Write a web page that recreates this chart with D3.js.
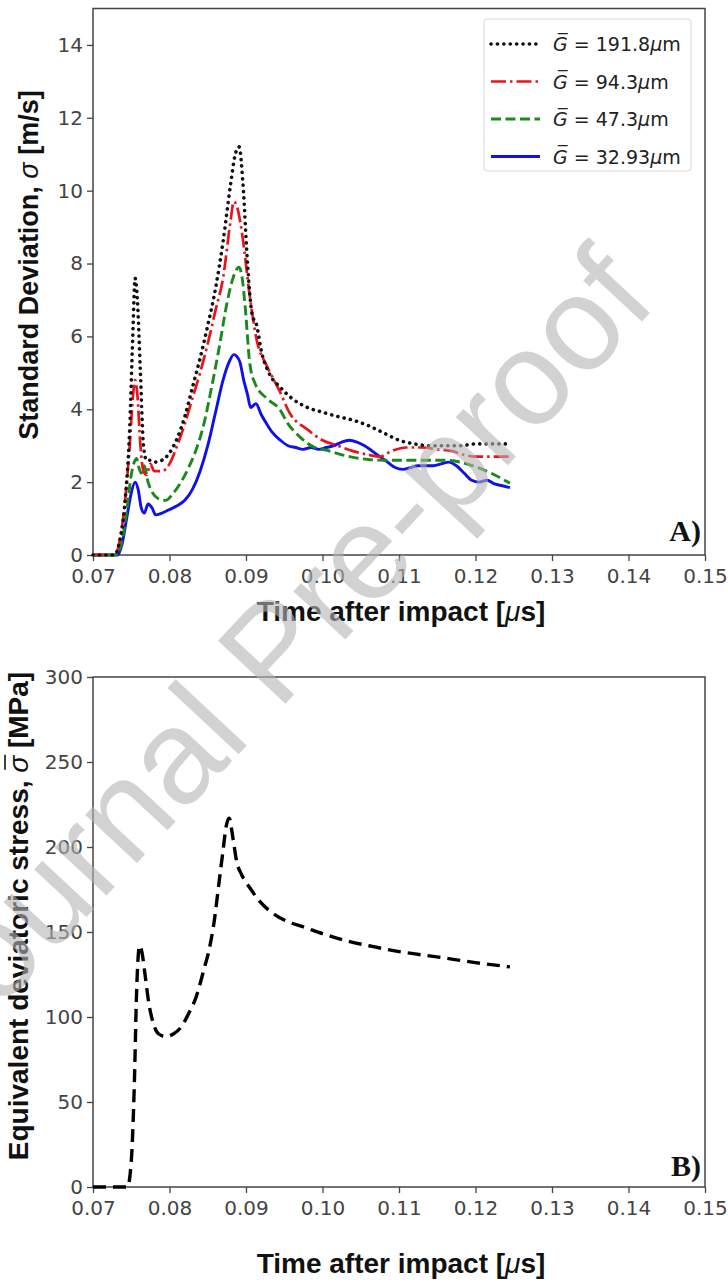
<!DOCTYPE html>
<html>
<head>
<meta charset="utf-8">
<script src="https://cdn.jsdelivr.net/npm/d3@7"></script>
<style>
  html, body { margin: 0; padding: 0; background: #fff; }
  svg { display: block; }
</style>
</head>
<body>
<svg id="chart" width="728" height="1285"></svg>
<script>
// ---- data ----
var xTicks = [0.07, 0.08, 0.09, 0.10, 0.11, 0.12, 0.13, 0.14, 0.15];
var sdTicks = [0, 2, 4, 6, 8, 10, 12, 14];
var stressTicks = [0, 50, 100, 150, 200, 250, 300];

var legendLabels = ['191.8', '94.3', '47.3', '32.93'];

// G = 191.8 um (black dotted)
var t1918 = [0.070, 0.0728, 0.0735, 0.0742, 0.0748, 0.0752, 0.0755, 0.0758, 0.0762, 0.0766, 0.0770, 0.0776, 0.0782, 0.0790, 0.0800, 0.0810, 0.0820, 0.0830, 0.0840, 0.0850, 0.0860, 0.0870, 0.0880, 0.0886, 0.0891, 0.0896, 0.0902, 0.0908, 0.0914, 0.0920, 0.0930, 0.0945, 0.0960, 0.0980, 0.1000, 0.1020, 0.1040, 0.1060, 0.1080, 0.1100, 0.1120, 0.1140, 0.1160, 0.1180, 0.1200, 0.1220, 0.1245];
var sd1918 = [0, 0, 0.4, 1.5, 3.5, 6.0, 7.6, 7.0, 5.0, 3.0, 2.6, 2.6, 2.55, 2.6, 2.8, 3.2, 3.8, 4.6, 5.4, 6.3, 7.3, 8.6, 10.2, 11.0, 11.2, 10.2, 8.0, 6.6, 6.3, 5.6, 5.0, 4.6, 4.3, 4.05, 3.92, 3.8, 3.7, 3.55, 3.35, 3.15, 3.05, 3.0, 3.0, 3.0, 3.05, 3.05, 3.05];

// G = 94.3 um (red dash-dot)
var t943 = [0.070, 0.0728, 0.0735, 0.0742, 0.0748, 0.0752, 0.0755, 0.0758, 0.0762, 0.0766, 0.0770, 0.0775, 0.0780, 0.0790, 0.0800, 0.0810, 0.0820, 0.0830, 0.0840, 0.0850, 0.0860, 0.0870, 0.0880, 0.0884, 0.0889, 0.0895, 0.0905, 0.0914, 0.0927, 0.0944, 0.0957, 0.0980, 0.1000, 0.1020, 0.1040, 0.1060, 0.1075, 0.1090, 0.1110, 0.1130, 0.1150, 0.1170, 0.1185, 0.1200, 0.1220, 0.1245];
var sd943 = [0, 0, 0.4, 1.5, 3.0, 4.3, 4.8, 4.4, 3.0, 2.3, 2.2, 2.5, 2.3, 2.3, 2.5, 3.0, 3.6, 4.3, 5.0, 5.8, 6.7, 7.6, 9.2, 9.7, 9.5, 8.8, 7.1, 5.9, 5.2, 4.5, 3.9, 3.45, 3.15, 3.0, 2.85, 2.75, 2.7, 2.85, 2.95, 2.95, 2.9, 2.85, 2.75, 2.7, 2.7, 2.7];

// G = 47.3 um (green dashed)
var t473 = [0.070, 0.0730, 0.0737, 0.0744, 0.0750, 0.0754, 0.0757, 0.0760, 0.0763, 0.0767, 0.0772, 0.0778, 0.0785, 0.0795, 0.0805, 0.0815, 0.0825, 0.0835, 0.0845, 0.0855, 0.0865, 0.0875, 0.0883, 0.0891, 0.0895, 0.0899, 0.0905, 0.0912, 0.0927, 0.0944, 0.0955, 0.0970, 0.0990, 0.1005, 0.1020, 0.1040, 0.1060, 0.1080, 0.1100, 0.1120, 0.1140, 0.1160, 0.1180, 0.1200, 0.1220, 0.1245];
var sd473 = [0, 0, 0.3, 1.2, 2.2, 2.55, 2.65, 2.4, 2.25, 2.45, 2.0, 1.7, 1.55, 1.5, 1.7, 2.0, 2.4, 2.9, 3.6, 4.6, 5.7, 6.9, 7.6, 7.9, 7.6, 6.8, 5.25, 4.7, 4.3, 4.0, 3.6, 3.25, 2.95, 2.88, 2.78, 2.68, 2.62, 2.6, 2.6, 2.6, 2.6, 2.6, 2.55, 2.42, 2.25, 1.97];

// G = 32.93 um (blue solid)
var t3293 = [0.070, 0.0732, 0.0738, 0.0744, 0.0750, 0.0755, 0.0759, 0.0763, 0.0767, 0.0772, 0.0777, 0.0782, 0.0790, 0.0800, 0.0810, 0.0820, 0.0830, 0.0840, 0.0850, 0.0860, 0.0870, 0.0878, 0.0884, 0.0888, 0.0892, 0.0897, 0.0902, 0.0906, 0.0913, 0.0920, 0.0927, 0.0935, 0.0945, 0.0955, 0.0965, 0.0975, 0.0985, 0.0995, 0.1005, 0.1015, 0.1025, 0.1035, 0.1045, 0.1055, 0.1065, 0.1075, 0.1085, 0.1095, 0.1105, 0.1115, 0.1125, 0.1135, 0.1145, 0.1155, 0.1165, 0.1175, 0.1185, 0.1195, 0.1205, 0.1215, 0.1225, 0.1235, 0.1245];
var sd3293 = [0, 0, 0.3, 1.0, 1.7, 2.0, 1.8, 1.3, 1.15, 1.4, 1.3, 1.1, 1.15, 1.25, 1.35, 1.5, 1.8, 2.3, 3.0, 3.9, 4.8, 5.3, 5.5, 5.45, 5.3, 4.8, 4.4, 4.05, 4.15, 3.85, 3.6, 3.35, 3.15, 3.0, 2.95, 2.9, 2.95, 2.9, 2.95, 3.0, 3.1, 3.15, 3.1, 3.0, 2.85, 2.7, 2.55, 2.4, 2.35, 2.4, 2.45, 2.45, 2.45, 2.5, 2.55, 2.45, 2.25, 2.05, 2.0, 2.05, 1.95, 1.9, 1.85];

// equivalent deviatoric stress (panel B)
var tStress = [0.070, 0.0745, 0.0750, 0.0754, 0.0757, 0.0761, 0.0764, 0.0768, 0.0773, 0.0779, 0.0786, 0.0795, 0.0805, 0.0815, 0.0825, 0.0835, 0.0845, 0.0852, 0.0858, 0.0865, 0.0870, 0.0874, 0.0878, 0.0883, 0.0888, 0.0894, 0.0905, 0.0918, 0.0935, 0.0955, 0.0975, 0.1000, 0.1030, 0.1065, 0.1100, 0.1155, 0.1200, 0.1245];
var stress = [0, 0, 15, 60, 115, 142, 138, 125, 108, 96, 90, 88.5, 90, 94, 102, 112, 128, 140, 155, 180, 198, 212, 217, 205, 191, 184, 176, 168, 161, 156, 153, 149, 145, 141.5, 138.5, 135, 132, 129.5];

// ---- drawing ----
var svg = d3.select('#chart');
svg.append('rect').attr('width', 728).attr('height', 1285).attr('fill', '#fff');

var tickFont = '"DejaVu Sans", sans-serif';
var titleFont = '"Liberation Sans", Arial, sans-serif';

var x = d3.scaleLinear().domain([0.07, 0.15]).range([93, 705]);
var yTop = d3.scaleLinear().domain([0, 15]).range([555, 8.5]);
var yBot = d3.scaleLinear().domain([0, 300]).range([1187, 677]);

function drawFrame(y, ticks, top, bottom) {
    var gx = svg.append('g')
        .attr('transform', 'translate(0,' + bottom + ')')
        .call(d3.axisBottom(x).tickValues(xTicks).tickFormat(d3.format('.2f')).tickSize(6).tickPadding(8));
    var gy = svg.append('g')
        .attr('transform', 'translate(93,0)')
        .call(d3.axisLeft(y).tickValues(ticks).tickFormat(d3.format('d')).tickSize(6).tickPadding(4));
    [gx, gy].forEach(function(g) {
        g.select('.domain').remove();
        g.selectAll('line').attr('stroke', '#444').attr('stroke-width', 1.3);
        g.selectAll('text').attr('fill', '#444').style('font-family', tickFont).style('font-size', '20px');
    });
    svg.append('rect')
        .attr('x', 93).attr('y', top)
        .attr('width', 705 - 93).attr('height', bottom - top)
        .attr('fill', 'none').attr('stroke', '#444').attr('stroke-width', 1.5);
}

drawFrame(yTop, sdTicks, 8.5, 555);
drawFrame(yBot, stressTicks, 677, 1187);

// panel A curves
var seriesA = [
    {t: t1918, v: sd1918, color: '#111', dash: '0.1,6.3', width: 3.6, cap: 'round'},
    {t: t943, v: sd943, color: '#e8141b', dash: '15,4,2.5,4', width: 2.7, cap: 'butt'},
    {t: t473, v: sd473, color: '#1a8a1a', dash: '10,4.5', width: 2.9, cap: 'butt'},
    {t: t3293, v: sd3293, color: '#1010e8', dash: null, width: 2.9, cap: 'butt'}
];

var lineA = d3.line()
    .x(function(d) { return x(d[0]); })
    .y(function(d) { return yTop(d[1]); })
    .curve(d3.curveMonotoneX);

// back to front so the solid blue sits on top
seriesA.slice().reverse().forEach(function(s) {
    svg.append('path')
        .datum(d3.zip(s.t, s.v))
        .attr('d', lineA)
        .attr('fill', 'none')
        .attr('stroke', s.color)
        .attr('stroke-width', s.width)
        .attr('stroke-linecap', s.cap)
        .attr('stroke-dasharray', s.dash);
});

// legend
var legend = svg.append('g');
legend.append('rect')
    .attr('x', 484).attr('y', 19).attr('width', 207).attr('height', 152)
    .attr('rx', 3).attr('fill', '#fff').attr('fill-opacity', 0.8)
    .attr('stroke', '#d6d6d6').attr('stroke-width', 1);
seriesA.forEach(function(s, i) {
    var ly = 44 + i * 37.5;
    legend.append('line')
        .attr('x1', 491).attr('x2', 540).attr('y1', ly).attr('y2', ly)
        .attr('stroke', s.color).attr('stroke-width', s.width)
        .attr('stroke-linecap', s.cap).attr('stroke-dasharray', s.dash);
    var txt = legend.append('text')
        .attr('x', 553).attr('y', ly + 7)
        .style('font-family', tickFont).style('font-size', '19px')
        .attr('fill', '#222');
    txt.append('tspan').style('font-style', 'italic').text('G\u0305');
    txt.append('tspan').text(' = ' + legendLabels[i]);
    txt.append('tspan').style('font-style', 'italic').text('\u03bc');
    txt.append('tspan').text('m');
});

// panel B curve
var lineB = d3.line()
    .x(function(d) { return x(d[0]); })
    .y(function(d) { return yBot(d[1]); })
    .curve(d3.curveMonotoneX);

svg.append('path')
    .datum(d3.zip(tStress, stress))
    .attr('d', lineB)
    .attr('fill', 'none')
    .attr('stroke', '#000')
    .attr('stroke-width', 3.4)
    .attr('stroke-dasharray', '13,7');

// axis titles
function xTitle(yPos) {
    var t = svg.append('text')
        .attr('x', 401).attr('y', yPos)
        .attr('text-anchor', 'middle')
        .style('font-family', titleFont).style('font-size', '28px').style('font-weight', 'bold')
        .attr('fill', '#111');
    t.append('tspan').text('Time after impact [');
    t.append('tspan').style('font-style', 'italic').style('font-weight', 'normal').text('\u03bc');
    t.append('tspan').text('s]');
}
xTitle(621);
xTitle(1273);

var yt1 = svg.append('text')
    .attr('transform', 'translate(38,265) rotate(-90)')
    .attr('text-anchor', 'middle')
    .style('font-family', titleFont).style('font-size', '27px').style('font-weight', 'bold')
    .attr('fill', '#111');
yt1.append('tspan').text('Standard Deviation, ');
yt1.append('tspan').style('font-style', 'italic').style('font-weight', 'normal').text('\u03c3');
yt1.append('tspan').text(' [m/s]');

var g2 = svg.append('g').attr('transform', 'translate(28,916) rotate(-90)');
var yt2 = g2.append('text')
    .attr('text-anchor', 'middle')
    .style('font-family', titleFont).style('font-size', '28px').style('font-weight', 'bold')
    .attr('fill', '#111');
var pre2 = 'Equivalent deviatoric stress, ';
yt2.append('tspan').text(pre2);
yt2.append('tspan').style('font-style', 'italic').style('font-weight', 'normal').text('\u03c3');
yt2.append('tspan').text(' [MPa]');
// bar over sigma
var ext = yt2.node().getExtentOfChar(pre2.length);
g2.append('line')
    .attr('x1', ext.x + 3).attr('x2', ext.x + ext.width + 1)
    .attr('y1', -23).attr('y2', -23)
    .attr('stroke', '#111').attr('stroke-width', 1.6);

// panel tags
svg.append('text').attr('x', 701).attr('y', 541).attr('text-anchor', 'end')
    .style('font-family', '"Liberation Serif", "Times New Roman", serif')
    .style('font-size', '30px').style('font-weight', 'bold').attr('fill', '#111').text('A)');
svg.append('text').attr('x', 701).attr('y', 1176).attr('text-anchor', 'end')
    .style('font-family', '"Liberation Serif", "Times New Roman", serif')
    .style('font-size', '30px').style('font-weight', 'bold').attr('fill', '#111').text('B)');

// watermark
svg.append('text')
    .attr('transform', 'translate(272,650) rotate(-47)')
    .attr('text-anchor', 'middle')
    .attr('dominant-baseline', 'central')
    .style('font-family', titleFont).style('font-size', '134px')
    .attr('fill', '#b4b4b4').attr('fill-opacity', 0.6)
    .text('Journal Pre-proof');
</script>
</body>
</html>
